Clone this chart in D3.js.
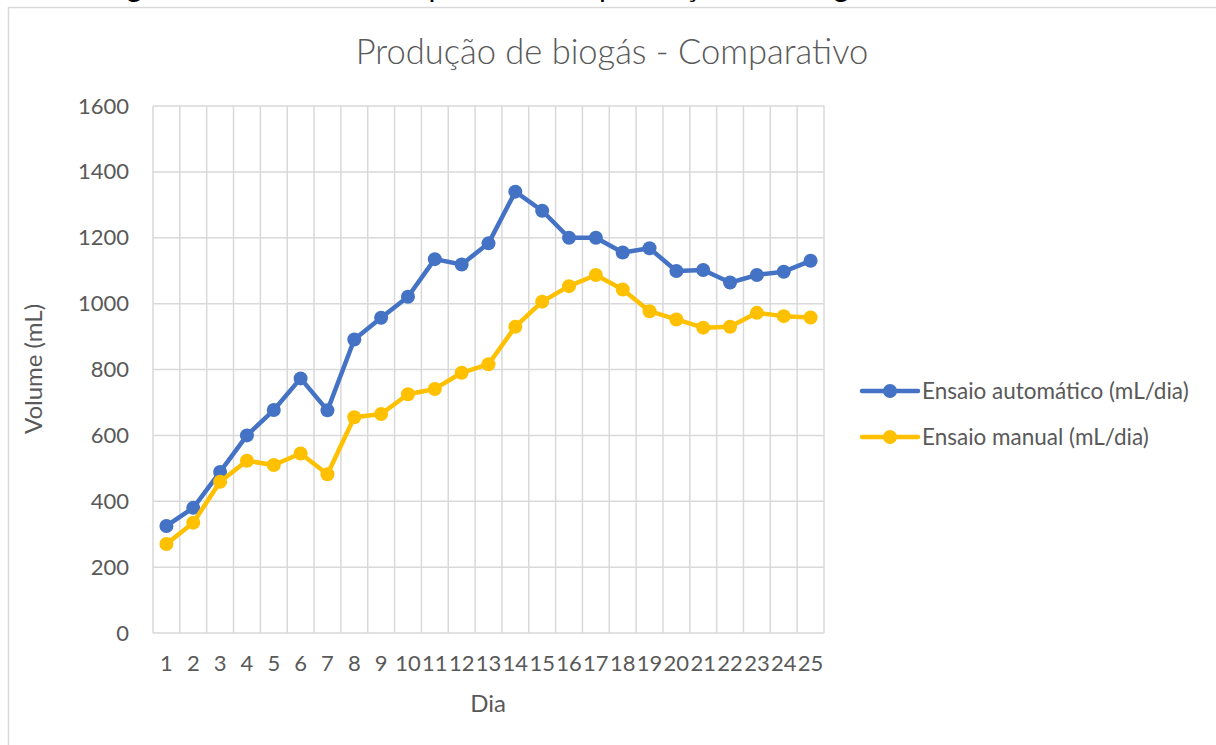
<!DOCTYPE html>
<html>
<head>
<meta charset="utf-8">
<script src="https://cdn.jsdelivr.net/npm/d3@7"></script>
<style>
  body { margin: 0; background: #fff; }
  svg { display: block; }
  text { font-family: Lato, "Open Sans", sans-serif; fill: #595959; }
</style>
</head>
<body>
<svg id="chart" width="1216" height="745"></svg>
<script>
// data
const days = d3.range(1, 26).map(String);
const automatico = [325, 380, 489, 600, 677, 773, 676, 891, 957, 1021, 1135, 1119, 1183, 1340, 1282,
                    1200, 1200, 1155, 1168, 1099, 1102, 1064, 1087, 1097, 1130];
const manual = [270, 335, 459, 523, 510, 545, 482, 655, 665, 725, 741, 790, 816, 930, 1006,
                1053, 1087, 1043, 977, 952, 927, 930, 972, 962, 958];
const yTicks = [0, 200, 400, 600, 800, 1000, 1200, 1400, 1600];

const series = [
  { name: 'Ensaio automático (mL/dia)', values: automatico, color: '#4472C4' },
  { name: 'Ensaio manual (mL/dia)', values: manual, color: '#FFC000' }
];

const svg = d3.select('#chart');
const plot = { left: 153, right: 824, top: 106, bottom: 633 };

// caption of the document page, cut off by the top edge
svg.append('text')
  .attr('x', 612).attr('y', -3)
  .attr('text-anchor', 'middle')
  .attr('font-size', 30)
  .attr('textLength', 1025)
  .style('fill', '#000')
  .text('Figura 8 – Gráfico comparativo da produção de biogás entre os ensaios');

// chart area border
svg.append('rect')
  .attr('x', 8.5).attr('y', 7.5)
  .attr('width', 1300).attr('height', 800)
  .attr('fill', 'none')
  .attr('stroke', '#D9D9D9')
  .attr('stroke-width', 1.5);

const x = d3.scaleBand().domain(days).range([plot.left, plot.right]);
const y = d3.scaleLinear().domain([0, 1600]).range([plot.bottom, plot.top]);
const cx = d => x(d) + x.bandwidth() / 2;

// gridlines
const grid = svg.append('g').attr('stroke', '#D9D9D9').attr('stroke-width', 1.5);
grid.selectAll('.h').data(yTicks).join('line')
  .attr('x1', plot.left).attr('x2', plot.right)
  .attr('y1', d => y(d)).attr('y2', d => y(d));
grid.selectAll('.v').data(days.concat(['end'])).join('line')
  .attr('x1', d => d === 'end' ? plot.right : x(d))
  .attr('x2', d => d === 'end' ? plot.right : x(d))
  .attr('y1', plot.top).attr('y2', plot.bottom);

// axes (labels only)
const yAxis = svg.append('g')
  .attr('transform', `translate(${plot.left - 24},0)`)
  .call(d3.axisLeft(y).tickValues(yTicks).tickFormat(d3.format('d')).tickSize(0).tickPadding(0));
const xAxis = svg.append('g')
  .attr('transform', `translate(0,${plot.bottom + 22})`)
  .call(d3.axisBottom(x).tickSize(0).tickPadding(0));
[yAxis, xAxis].forEach(a => {
  a.select('.domain').remove();
  a.selectAll('text').attr('font-size', 22).attr('font-family', null).style('fill', '#595959');
});
xAxis.selectAll('text').attr('dy', '0.71em');

// titles
svg.append('text')
  .attr('x', 612).attr('y', 64)
  .attr('text-anchor', 'middle')
  .attr('font-size', 34.5)
  .attr('font-weight', 300)
  .text('Produção de biogás - Comparativo');

svg.append('text')
  .attr('transform', 'translate(42,369) rotate(-90)')
  .attr('text-anchor', 'middle')
  .attr('font-size', 24)
  .text('Volume (mL)');

svg.append('text')
  .attr('x', 488).attr('y', 712)
  .attr('text-anchor', 'middle')
  .attr('font-size', 24)
  .text('Dia');

// lines and markers
const line = d3.line().x((d, i) => cx(days[i])).y(d => y(d));
series.forEach(s => {
  const g = svg.append('g');
  g.append('path')
    .attr('d', line(s.values))
    .attr('fill', 'none')
    .attr('stroke', s.color)
    .attr('stroke-width', 4.5)
    .attr('stroke-linejoin', 'round');
  g.selectAll('circle').data(s.values).join('circle')
    .attr('cx', (d, i) => cx(days[i]))
    .attr('cy', d => y(d))
    .attr('r', 7)
    .attr('fill', s.color);
});

// legend
const legend = svg.append('g').selectAll('g').data(series).join('g')
  .attr('transform', (d, i) => `translate(862,${391 + i * 46})`);
legend.append('line')
  .attr('x1', 0).attr('x2', 56)
  .attr('stroke', d => d.color)
  .attr('stroke-width', 4.5)
  .attr('stroke-linecap', 'round');
legend.append('circle')
  .attr('cx', 28).attr('r', 7)
  .attr('fill', d => d.color);
legend.append('text')
  .attr('x', 60).attr('dy', '0.35em')
  .attr('font-size', 22.5)
  .text(d => d.name);
</script>
</body>
</html>
